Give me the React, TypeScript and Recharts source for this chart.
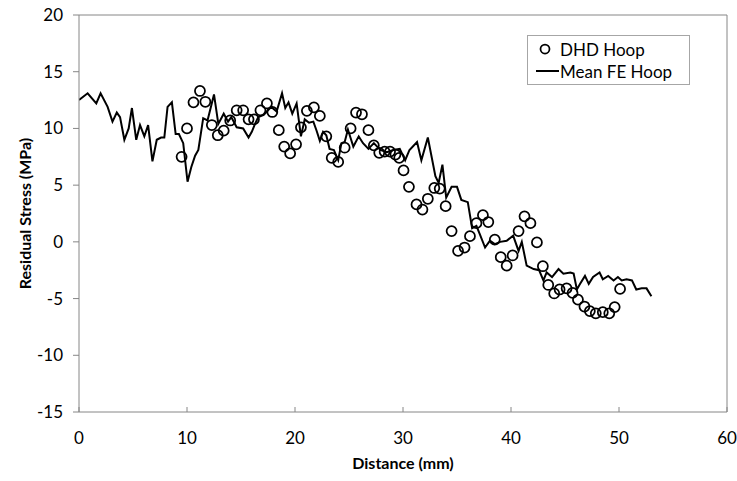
import React from 'react';
import { ComposedChart, Line, Scatter, XAxis, YAxis, ReferenceLine, Label } from 'recharts';

// Mean FE Hoop (line)
const feDistance = [
  0, 0.8, 1.6, 2.0, 2.65, 3.1, 3.5, 3.8, 4.2, 4.6, 4.9, 5.3, 5.65, 6.05, 6.4, 6.8, 7.2, 7.6, 7.9, 8.2,
  8.6, 8.95, 9.25, 9.65, 10.05, 10.4, 10.75, 11.05, 11.5, 11.9, 12.5, 12.9, 13.4, 13.8, 14.1, 14.6, 15.2, 15.7, 16.0, 16.3,
  16.6, 17.1, 17.5, 17.8, 18.3, 18.8, 19.1, 19.4, 19.75, 20.15, 20.55, 20.9, 21.3, 21.7, 22.0, 22.3, 22.6, 22.9, 23.2, 23.6,
  24.0, 24.3, 24.6, 24.9, 25.4, 25.9, 26.3, 26.8, 27.3, 27.9, 28.5, 29.1, 29.7, 30.2, 30.6, 31.3, 31.7, 32.3, 33.0, 33.3,
  33.65, 34.0, 34.5, 35.0, 35.4, 36.0, 36.4, 36.8, 37.1, 37.6, 38.05, 38.5, 39.0, 39.6, 40.2, 40.7, 41.0, 41.45, 42.1, 42.6,
  43.0, 43.3, 43.8, 44.4, 44.85, 45.5, 45.8, 46.1, 46.4, 46.85, 47.2, 47.6, 48.2, 48.5, 49.0, 49.5, 49.9, 50.25, 50.7, 51.2,
  51.6, 52.1, 52.55, 53.0,
];
const feStress = [
  12.5, 13.1, 12.2, 13.1, 11.9, 10.6, 11.4, 11.0, 9.0, 10.0, 11.8, 9.0, 10.3, 9.3, 10.3, 7.1, 9.0, 9.2, 9.2, 11.9,
  12.3, 9.5, 9.5, 8.7, 5.3, 6.6, 7.6, 8.1, 10.9, 10.7, 13.0, 10.4, 11.3, 10.6, 11.0, 10.1, 10.0, 9.2, 9.7, 10.4,
  11.0, 11.2, 11.6, 11.9, 11.5, 13.1, 11.8, 12.3, 11.3, 12.2, 9.3, 10.8, 10.5, 10.6, 9.8, 8.9, 9.7, 9.4, 8.2, 8.1,
  7.2, 8.7, 8.8, 9.9, 8.4, 9.3, 8.7, 8.2, 8.7, 8.1, 7.9, 8.1, 8.2, 7.2, 8.1, 8.8, 7.2, 9.2, 5.8, 5.2,
  6.8, 3.9, 4.85, 4.85, 3.7, 3.5, 1.2, 1.4, 0.7, -0.5, 0.1, -0.2, 0.0, 0.1, 0.55, -0.8, 0.0, -2.1, -2.4, -2.5,
  -3.4, -2.7, -3.1, -2.4, -2.8, -2.7, -2.8, -4.2, -3.7, -3.0, -3.7, -3.1, -2.7, -3.3, -3.0, -3.4, -3.1, -3.4, -3.3, -3.4,
  -4.2, -4.1, -4.1, -4.8,
];

// DHD Hoop (open circles)
const dhdDistance = [
  9.5, 10.0, 10.6, 11.2, 11.7, 12.3, 12.85, 13.4, 14.0, 14.6, 15.2, 15.7, 16.2, 16.8, 17.4, 17.9, 18.5, 19.0, 19.55, 20.1,
  20.55, 21.1, 21.75, 22.3, 22.9, 23.4, 24.0, 24.6, 25.15, 25.65, 26.2, 26.8, 27.3, 27.8, 28.3, 28.8, 29.3, 29.65, 30.05, 30.55,
  31.25, 31.8, 32.3, 32.9, 33.4, 33.95, 34.5, 35.1, 35.7, 36.2, 36.8, 37.4, 37.9, 38.5, 39.05, 39.6, 40.15, 40.7, 41.25, 41.8,
  42.4, 42.95, 43.45, 44.0, 44.5, 45.15, 45.7, 46.2, 46.8, 47.3, 47.85, 48.5, 49.1, 49.6, 50.1,
];
const dhdStress = [
  7.5, 10.0, 12.3, 13.3, 12.35, 10.3, 9.4, 9.8, 10.7, 11.6, 11.6, 10.8, 10.8, 11.6, 12.2, 11.45, 9.85, 8.4, 7.8, 8.6,
  10.1, 11.55, 11.85, 11.1, 9.3, 7.4, 7.05, 8.3, 10.0, 11.4, 11.25, 9.85, 8.5, 7.85, 7.95, 7.95, 7.7, 7.4, 6.3, 4.85,
  3.3, 2.85, 3.8, 4.75, 4.7, 3.15, 0.95, -0.8, -0.5, 0.5, 1.65, 2.35, 1.75, 0.2, -1.35, -2.1, -1.2, 0.95, 2.25, 1.65,
  -0.05, -2.15, -3.8, -4.55, -4.2, -4.1, -4.5, -5.1, -5.7, -6.1, -6.3, -6.2, -6.3, -5.75, -4.15,
];

const xTicks = [0, 10, 20, 30, 40, 50, 60];
const yTicks = [-15, -10, -5, 0, 5, 10, 15, 20];

const feData = feDistance.map((x, i) => ({ x, y: feStress[i] }));
const dhdData = dhdDistance.map((x, i) => ({ x, y: dhdStress[i] }));

const FONT = 'Lato, "Open Sans", sans-serif';
const AXIS = '#868686';

function LegendBox() {
  return (
    <div
      style={{
        position: 'absolute',
        left: 527,
        top: 35,
        border: '1px solid #a6a6a6',
        width: 163,
        height: 50,
        boxSizing: 'border-box',
        background: '#fff',
        fontFamily: FONT,
        fontSize: 17,
        color: '#000',
        paddingTop: 2,
      }}
    >
      <div style={{ display: 'flex', alignItems: 'center', height: 22 }}>
        <svg width={32} height={14}>
          <circle cx={17} cy={7} r={4.5} fill="none" stroke="#000" strokeWidth={1.75} />
        </svg>
        <span>DHD Hoop</span>
      </div>
      <div style={{ display: 'flex', alignItems: 'center', height: 22 }}>
        <svg width={32} height={14}>
          <line x1={8} y1={7} x2={31} y2={7} stroke="#000" strokeWidth={2} />
        </svg>
        <span>Mean FE Hoop</span>
      </div>
    </div>
  );
}

export default function App() {
  return (
    <div style={{ position: 'relative', width: 737, height: 481, background: '#fff' }}>
      <style>{`body{margin:0}`}</style>
      <ComposedChart width={737} height={481} margin={{ top: 15, right: 10, bottom: 0, left: 0 }}>
        <XAxis
          type="number"
          dataKey="x"
          domain={[0, 60]}
          ticks={xTicks}
          allowDataOverflow
          height={69}
          tickSize={-5}
          tickMargin={25}
          axisLine={{ stroke: AXIS }}
          tickLine={{ stroke: AXIS }}
          tick={{ fill: '#000', fontSize: 17, fontFamily: FONT }}
        >
          <Label
            value="Distance (mm)"
            position="insideBottom"
            offset={12}
            style={{ fontFamily: FONT, fontSize: 16, fontWeight: 700, fill: '#000' }}
          />
        </XAxis>
        <YAxis
          type="number"
          dataKey="y"
          domain={[-15, 20]}
          ticks={yTicks}
          allowDataOverflow
          width={79}
          tickSize={6}
          tickMargin={10}
          axisLine={{ stroke: AXIS }}
          tickLine={{ stroke: AXIS }}
          tick={{ fill: '#000', fontSize: 17, fontFamily: FONT }}
        >
          <Label
            value="Residual Stress (MPa)"
            angle={-90}
            position="insideLeft"
            offset={25}
            style={{ fontFamily: FONT, fontSize: 16, fontWeight: 700, fill: '#000', textAnchor: 'middle' }}
          />
        </YAxis>
        <ReferenceLine y={20} stroke={AXIS} />
        <ReferenceLine x={60} stroke={AXIS} />
        <Line
          data={feData}
          dataKey="y"
          type="linear"
          stroke="#000"
          strokeWidth={2}
          dot={false}
          activeDot={false}
          isAnimationActive={false}
          name="Mean FE Hoop"
        />
        <Scatter
          data={dhdData}
          dataKey="y"
          fill="none"
          shape={(p: any) => (
            <circle cx={p.cx} cy={p.cy} r={5} fill="none" stroke="#000" strokeWidth={1.75} />
          )}
          isAnimationActive={false}
          name="DHD Hoop"
        />
      </ComposedChart>
      <LegendBox />
    </div>
  );
}
